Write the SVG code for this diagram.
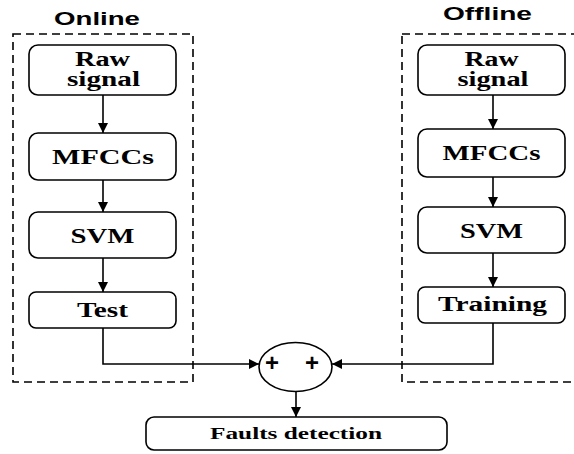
<svg xmlns="http://www.w3.org/2000/svg" width="574" height="454" viewBox="0 0 574 454">
<style>
.box{fill:#fff;stroke:#000;stroke-width:1.6}
.dash{fill:none;stroke:#000;stroke-width:1.6;stroke-dasharray:8 5}
.lbl{font-family:"Liberation Serif","Times New Roman",serif;font-weight:bold;font-size:20px;fill:#000;text-anchor:middle}
.ttl{font-family:"Liberation Sans",Arial,sans-serif;font-weight:bold;font-size:18px;fill:#000;text-anchor:middle}
.con{fill:none;stroke:#000;stroke-width:1.6}
.plus{font-family:"Liberation Sans",Arial,sans-serif;font-weight:bold;font-size:24px;fill:#000;text-anchor:middle}
</style>
<defs>
<marker id="ah" viewBox="0 0 10 10" refX="10" refY="5" markerWidth="6.5" markerHeight="6.5" orient="auto" markerUnits="strokeWidth">
<path d="M0,0 L10,5 L0,10 z" fill="#000"/>
</marker>
</defs>
<g id="online-group">
<rect class="dash" x="13" y="34" width="180" height="348"/>
<text class="ttl" x="97" y="25" textLength="86" lengthAdjust="spacingAndGlyphs">Online</text>
</g>
<g id="offline-group">
<rect class="dash" x="402" y="34" width="190" height="348"/>
<text class="ttl" x="487.5" y="20" textLength="89" lengthAdjust="spacingAndGlyphs">Offline</text>
</g>
<g id="connectors">
<path class="con" d="M103,95 L103,133" marker-end="url(#ah)"/>
<path class="con" d="M103,180 L103,212" marker-end="url(#ah)"/>
<path class="con" d="M103,258 L103,292" marker-end="url(#ah)"/>
<path class="con" d="M103,328 L103,364 L259,364" marker-end="url(#ah)"/>
<path class="con" d="M493,95 L493,129" marker-end="url(#ah)"/>
<path class="con" d="M493,177 L493,207" marker-end="url(#ah)"/>
<path class="con" d="M493,253 L493,287" marker-end="url(#ah)"/>
<path class="con" d="M493,323 L493,364 L332,364" marker-end="url(#ah)"/>
<path class="con" d="M296,392 L296,417" marker-end="url(#ah)"/>
</g>
<g id="online-raw">
<rect class="box" x="29" y="45" width="147" height="50" rx="9"/>
<text class="lbl" x="102.5" y="66" textLength="55" lengthAdjust="spacingAndGlyphs">Raw</text>
<text class="lbl" x="103.5" y="86" textLength="73" lengthAdjust="spacingAndGlyphs">signal</text>
</g>
<g id="online-mfcc">
<rect class="box" x="29" y="133" width="147" height="47" rx="9"/>
<text class="lbl" x="103" y="164" textLength="102" lengthAdjust="spacingAndGlyphs">MFCCs</text>
</g>
<g id="online-svm">
<rect class="box" x="29" y="212" width="147" height="46" rx="9"/>
<text class="lbl" x="102.5" y="243" textLength="64" lengthAdjust="spacingAndGlyphs">SVM</text>
</g>
<g id="online-test">
<rect class="box" x="29" y="292" width="147" height="36" rx="7"/>
<text class="lbl" x="102.5" y="317" textLength="51" lengthAdjust="spacingAndGlyphs">Test</text>
</g>
<g id="offline-raw">
<rect class="box" x="418" y="45" width="147" height="50" rx="9"/>
<text class="lbl" x="491.5" y="66" textLength="54" lengthAdjust="spacingAndGlyphs">Raw</text>
<text class="lbl" x="493" y="86" textLength="71" lengthAdjust="spacingAndGlyphs">signal</text>
</g>
<g id="offline-mfcc">
<rect class="box" x="418" y="129" width="147" height="48" rx="9"/>
<text class="lbl" x="491.5" y="160" textLength="98" lengthAdjust="spacingAndGlyphs">MFCCs</text>
</g>
<g id="offline-svm">
<rect class="box" x="418" y="207" width="147" height="46" rx="9"/>
<text class="lbl" x="491.5" y="238" textLength="63" lengthAdjust="spacingAndGlyphs">SVM</text>
</g>
<g id="offline-training">
<rect class="box" x="418" y="287" width="147" height="36" rx="7"/>
<text class="lbl" x="492.5" y="311" textLength="109" lengthAdjust="spacingAndGlyphs">Training</text>
</g>
<g id="sum">
<ellipse class="box" cx="295.5" cy="367" rx="36.5" ry="24.5"/>
<text class="plus" x="272" y="371">+</text>
<text class="plus" x="312" y="371">+</text>
</g>
<g id="faults">
<rect class="box" x="146" y="417" width="301" height="33" rx="8"/>
<text class="lbl" x="296" y="439" textLength="172" lengthAdjust="spacingAndGlyphs" style="font-size:17px">Faults detection</text>
</g>
</svg>
